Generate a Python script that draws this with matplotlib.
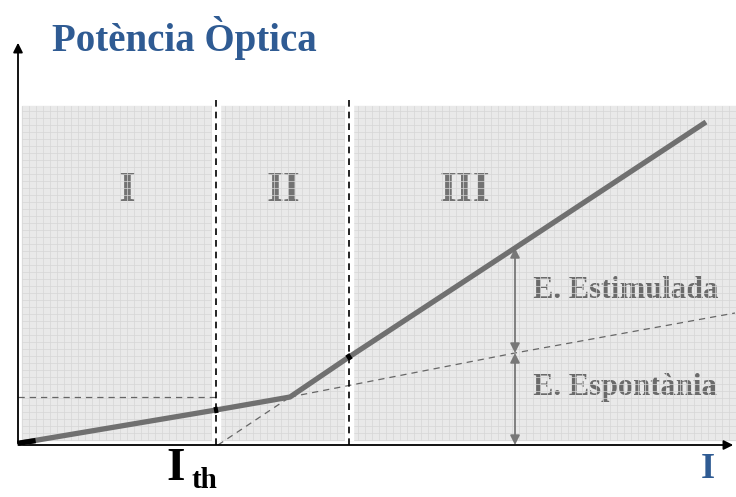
import numpy as np
import matplotlib.pyplot as plt

# data (current I, optical power P) in arbitrary units
I_main = [2, 198, 272, 331, 497, 688]
P_main = [2, 35, 48, 88, 197, 323]
I_spont = [272, 497, 717]
P_spont = [48, 92, 132]
I_thr_line = [200, 272]
P_thr_line = [0, 48]
I_th = 198
I_sep = 331
P_knee = 48
I_arrow = 497
P_arrow = [0, 92, 197]
regions = ['I', 'II', 'III']
region_x = [109, 265, 447]
labels = ['E. Estimulada', 'E. Espontània']

fig = plt.figure(figsize=(7.36, 4.97), dpi=100)
ax = fig.add_axes([0, 0, 1, 1])
ax.set_xlim(-18, 718)
ax.set_ylim(-52, 445)
ax.axis('off')

serif = ['Liberation Serif', 'DejaVu Serif']

# gray background with fine grid (grid drawn over the labels, like the original)
x0, x1, y0, y1 = 4, 718, 5, 339
ax.fill_between([x0, x1], y0, y1, color='#e9e9e9', zorder=0)
for gx in np.arange(x0, x1, 7):
    ax.plot([gx, gx], [y0, y1], color='#d6d6d6', lw=0.5, zorder=1.5)
for gy in np.arange(y0, y1, 7):
    ax.plot([x0, x1], [gy, gy], color='#d6d6d6', lw=0.5, zorder=1.5)
# white separators
for xs in [I_th, I_sep]:
    ax.fill_between([xs - 4, xs + 4], y0, y1 + 1, color='white', zorder=1.6)
    ax.plot([xs, xs], [0, y1 + 6], color='black', lw=1.2, ls=(0, (4, 3)), zorder=3)

# axes
ax.annotate('', xy=(0, 405), xytext=(0, -1),
            arrowprops=dict(arrowstyle='-|>', color='black', lw=1.3, mutation_scale=14), zorder=4)
ax.annotate('', xy=(718, 0), xytext=(-1, 0),
            arrowprops=dict(arrowstyle='-|>', color='black', lw=1.3, mutation_scale=14), zorder=4)

# thin dashed guides
ax.plot([0, I_th], [P_knee, P_knee], color='#666666', lw=0.9, ls=(0, (5, 4)), zorder=2)
ax.plot(I_spont, P_spont, color='#666666', lw=0.9, ls=(0, (5, 4)), zorder=2)
ax.plot(I_thr_line, P_thr_line, color='#666666', lw=0.9, ls=(0, (5, 4)), zorder=2)

# main curve
ax.plot(I_main, P_main, color='#707070', lw=3.8, solid_capstyle='butt', zorder=5)
ax.plot(I_main[:1] + [15], [P_main[0], 4], color='black', lw=3.8, zorder=6)
for xi in [I_th, I_sep]:
    yi = np.interp(xi, I_main, P_main)
    dy = 0.4 if xi == I_th else 1.3
    ax.plot([xi - 2, xi + 2], [yi - dy, yi + dy], color='black', lw=4.5,
            solid_capstyle='butt', zorder=6)

# double arrows
for a, b in [(P_arrow[0], P_arrow[1]), (P_arrow[1], P_arrow[2])]:
    ax.annotate('', xy=(I_arrow, a), xytext=(I_arrow, b),
                arrowprops=dict(arrowstyle='<|-|>', color='#777777', lw=1.3, mutation_scale=14,
                                shrinkA=0, shrinkB=0), zorder=4)

# texts
for r, xr in zip(regions, region_x):
    ax.text(xr, 254, r, family=serif, fontsize=31, fontweight='bold', color='#727272',
            ha='center', va='center', zorder=1)
ax.text(515, 154, labels[0], family=serif, fontsize=22, fontweight='bold', color='#6a6a6a',
        ha='left', va='center', zorder=1)
ax.text(515, 57, labels[1], family=serif, fontsize=22, fontweight='bold', color='#6a6a6a',
        ha='left', va='center', zorder=1)

fig.text(52 / 736, 1 - 38 / 497, 'Potència Òptica', family=serif, fontsize=28, fontweight='bold',
         color='#2f5b93', ha='left', va='center')
fig.text(166 / 736, 1 - 469 / 497, 'I', family=serif, fontsize=34, fontweight='bold',
         color='black', ha='left', va='center')
fig.text(191 / 736, 1 - 480 / 497, 'th', family=serif, fontsize=21, fontweight='bold',
         color='black', ha='left', va='center')
fig.text(708 / 736, 1 - 470 / 497, 'I', family=serif, fontsize=26, fontweight='bold',
         color='#2f5b93', ha='center', va='center')

fig.savefig('out.png', dpi=100)
